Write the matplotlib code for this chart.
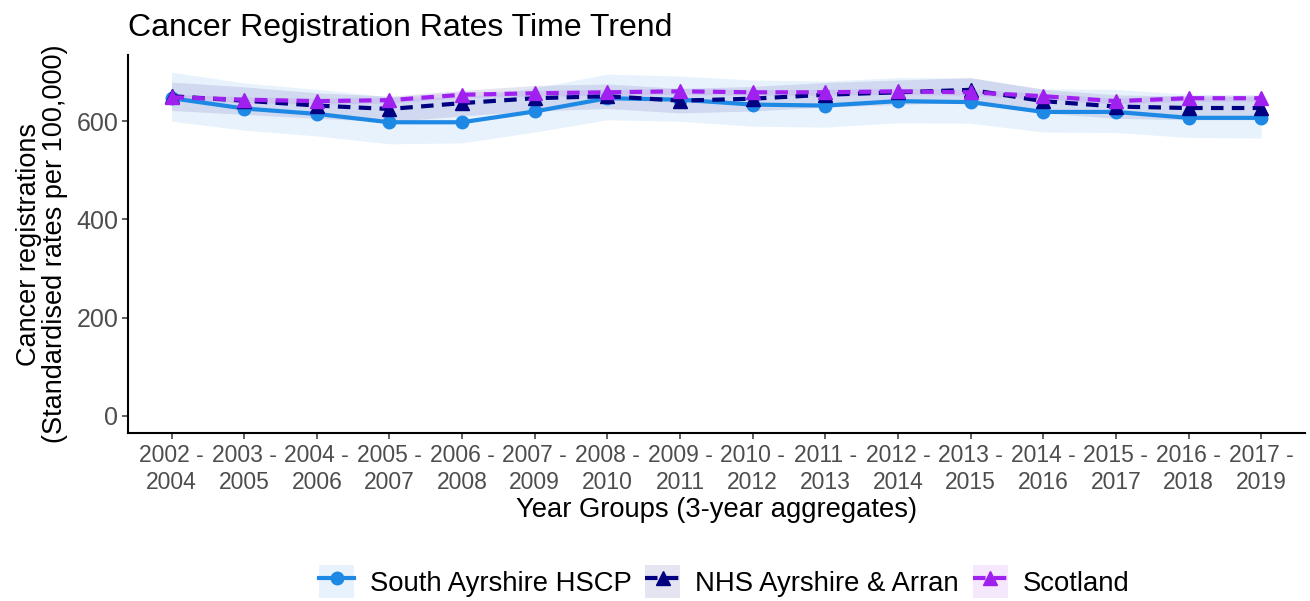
#!/usr/bin/env python3
# -*- coding: utf-8 -*-

import matplotlib
matplotlib.use("Agg")
import matplotlib.pyplot as plt
from matplotlib.lines import Line2D
from matplotlib.patches import Patch
from matplotlib.legend_handler import HandlerTuple

plt.rcParams['font.family'] = ['Liberation Sans', 'DejaVu Sans']

##################
### Chart data ###
##################

YEAR_GROUPS = ["2002 -\n2004", "2003 -\n2005", "2004 -\n2006", "2005 -\n2007",
               "2006 -\n2008", "2007 -\n2009", "2008 -\n2010", "2009 -\n2011",
               "2010 -\n2012", "2011 -\n2013", "2012 -\n2014", "2013 -\n2015",
               "2014 -\n2016", "2015 -\n2017", "2016 -\n2018", "2017 -\n2019"]

# South Ayrshire HSCP
SA_RATE = [647, 626, 615, 598, 598, 620, 647, 644, 634, 632, 641, 639, 619, 619, 607, 607]
SA_LOWER = [600, 582, 570, 554, 556, 578, 603, 600, 590, 588, 597, 596, 578, 577, 567, 566]
SA_UPPER = [700, 678, 665, 650, 648, 668, 696, 692, 684, 682, 689, 688, 666, 665, 655, 654]

# NHS Ayrshire & Arran
NHS_RATE = [651, 642, 632, 625, 637, 647, 651, 642, 646, 654, 659, 664, 641, 630, 627, 627]
NHS_LOWER = [622, 614, 606, 599, 611, 621, 626, 617, 621, 629, 634, 639, 617, 606, 603, 603]
NHS_UPPER = [680, 670, 658, 651, 663, 673, 676, 667, 671, 679, 684, 689, 665, 654, 651, 651]

# Scotland
SCOT_RATE = [649, 644, 641, 643, 654, 657, 659, 661, 659, 659, 661, 659, 651, 641, 647, 647]
SCOT_LOWER = [643, 638, 635, 637, 648, 651, 653, 655, 653, 653, 655, 653, 645, 635, 641, 641]
SCOT_UPPER = [655, 650, 647, 649, 660, 663, 665, 667, 665, 665, 667, 665, 657, 647, 653, 653]

SERIES = [
    ("South Ayrshire HSCP", SA_RATE, SA_LOWER, SA_UPPER, "#1E88E5", "-", "o", 9),
    ("NHS Ayrshire & Arran", NHS_RATE, NHS_LOWER, NHS_UPPER, "#000080", (0, (3, 2)), "^", 10),
    ("Scotland", SCOT_RATE, SCOT_LOWER, SCOT_UPPER, "#A020F0", (0, (3, 2)), "^", 10),
]

if __name__ == "__main__":

    fig = plt.figure(figsize=(13.1, 6.01), dpi=100)
    ax = fig.add_axes([0.0977, 0.2795, 0.8983, 0.629])

    x = list(range(len(YEAR_GROUPS)))

    # confidence bands first so lines sit on top
    for name, rate, lo, hi, col, ls, mk, ms in SERIES:
        ax.fill_between(x, lo, hi, color=col, alpha=0.1, linewidth=0)

    handles = []
    for name, rate, lo, hi, col, ls, mk, ms in SERIES:
        ax.plot(x, rate, color=col, linestyle=ls, linewidth=3, marker=mk,
                markersize=ms, zorder=3)
        handles.append((Patch(facecolor=col, alpha=0.1, edgecolor="none"),
                        Line2D([], [], color=col, linestyle=ls, linewidth=3,
                               marker=mk, markersize=ms)))

    ax.set_xlim(-0.6, len(YEAR_GROUPS) - 0.4)
    ax.set_ylim(-35, 735)
    ax.set_yticks([0, 200, 400, 600])
    ax.set_xticks(x)
    ax.set_xticklabels(YEAR_GROUPS)

    for side in ["top", "right"]:
        ax.spines[side].set_visible(False)
    for side in ["left", "bottom"]:
        ax.spines[side].set_linewidth(1.5)
        ax.spines[side].set_color("black")

    ax.tick_params(axis="both", labelcolor="#4D4D4D",
                   color="#333333", length=4, width=1.1)
    ax.tick_params(axis="x", labelsize=16.5, pad=4)
    ax.tick_params(axis="y", labelsize=18, pad=3)

    ax.set_xlabel("Year Groups (3-year aggregates)", fontsize=19.7, labelpad=2)
    ax.set_ylabel("Cancer registrations\n(Standardised rates per 100,000)",
                  fontsize=19.5, labelpad=6, linespacing=1.0)
    ax.set_title("Cancer Registration Rates Time Trend", fontsize=23,
                 loc="left", x=0.0, pad=14)

    fig.legend(handles, [s[0] for s in SERIES],
               handler_map={tuple: HandlerTuple(ndivide=1, pad=0)},
               loc="center", bbox_to_anchor=(0.553, 0.032), ncol=3,
               frameon=False, fontsize=19.8, handlelength=1.27,
               handleheight=1.45, handletextpad=0.55, columnspacing=0.5)

    fig.savefig("out.png", dpi=100)
